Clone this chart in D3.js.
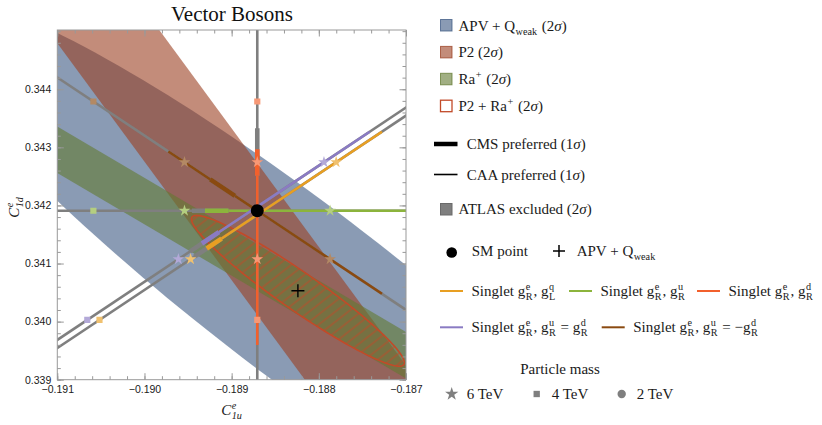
<!DOCTYPE html>
<html>
<head>
<meta charset="utf-8">
<script src="https://cdn.jsdelivr.net/npm/d3@7"></script>
<style>
  body { margin: 0; background: #fff; }
  svg text { font-family: "Liberation Serif", "Times New Roman", serif; fill: #1a1a1a; }
  svg text.tick-label { font-family: "Liberation Sans", Arial, sans-serif; }
</style>
</head>
<body>
<svg id="chart" width="822" height="425"></svg>
<script>
// ---- data ----
const xTicks = [-0.191, -0.190, -0.189, -0.188, -0.187];
const yTicks = [0.339, 0.340, 0.341, 0.342, 0.343, 0.344];

const smPoint = [-0.188706, 0.341909];
const apvBest = [-0.18824, 0.34053];

// APV + Qweak 2 sigma ellipse: centre + two conjugate half diameters
const apvHalfA = [0.004381, -0.004755];
const apvHalfB = [0, 0.00186];
// P2 + Ra+ 2 sigma ellipse (same centre)
const comboHalfA = [0.0012213, -0.0012362];
const comboHalfB = [0, 0.000396];

// straight bands (corner points, clipped to the frame)
const p2Band = [[-0.19111, 0.34502], [-0.18983, 0.34502], [-0.18688, 0.339], [-0.18816, 0.339]];
const raBand = [[-0.191, 0.34336], [-0.187, 0.33982], [-0.187, 0.33902], [-0.191, 0.34256]];

// singlet lines
const singletColors = ["#e89f22", "#8cb43c", "#f2602c", "#8a7bc3", "#8a4a10"];
const singletDir = [[1, 1], [1, 0], [0, 1], [1, 1], [1, -1]];
const singletOffsetU = [0.00007, 0, 0, -0.00007, 0];
const singletAllowed = [[-0.00065, 0.00136], [-0.0006, 0.01], [-0.00231, 0.00106], [-0.000565, 0.00136], [-0.00102, 0.00143]];
const singletCms = [[-0.00079, -0.00048], [-0.00075, -0.00033], [0.0006, 0.00142], [-0.0007, -0.00037], [-0.00054, -0.000256]];
const singletLabels = [
  ["Singlet g", {sup: "e", sub: "R"}, ", g", {sup: "q", sub: "L"}],
  ["Singlet g", {sup: "e", sub: "R"}, ", g", {sup: "u", sub: "R"}],
  ["Singlet g", {sup: "e", sub: "R"}, ", g", {sup: "d", sub: "R"}],
  ["Singlet g", {sup: "e", sub: "R"}, ", g", {sup: "u", sub: "R"}, " = g", {sup: "d", sub: "R"}],
  ["Singlet g", {sup: "e", sub: "R"}, ", g", {sup: "u", sub: "R"}, " = \u2212g", {sup: "d", sub: "R"}]
];

// mass markers: shift from the SM point along each line
const massLabels = ["6 TeV", "4 TeV", "2 TeV"];
const massShift = [0.000835, 0.00188, 0.0075];
const massSymbols = [d3.symbolStar, d3.symbolSquare, d3.symbolCircle];

const blue = "rgb(60,88,130)", red = "rgb(155,63,33)", green = "rgb(98,122,48)";
const grey = "#7f7f7f", hatchCol = "#c24a28";

// ---- chart ----
const svg = d3.select("#chart");
const x = d3.scaleLinear().domain([-0.191, -0.187]).range([57.3, 406]);
const y = d3.scaleLinear().domain([0.339, 0.34502]).range([379.7, 30]);
const [x0, x1] = x.range(), [y0, y1] = [y.range()[1], y.range()[0]];

const defs = svg.append("defs");
defs.append("clipPath").attr("id", "plotClip").append("rect")
    .attr("x", x0).attr("y", y0).attr("width", x1 - x0).attr("height", y1 - y0);
const hatch = defs.append("pattern").attr("id", "hatch")
    .attr("patternUnits", "userSpaceOnUse").attr("width", 8).attr("height", 8)
    .attr("patternTransform", "rotate(52)");
hatch.append("line").attr("x1", 4).attr("y1", 0).attr("x2", 4).attr("y2", 8)
    .attr("stroke", hatchCol).attr("stroke-width", 0.9);

const plot = svg.append("g").attr("clip-path", "url(#plotClip)");

function ellipsePath(c, a, b) {
    const pts = d3.range(0, 361, 2).map(deg => {
        const t = deg * Math.PI / 180;
        return [x(c[0] + a[0] * Math.cos(t) + b[0] * Math.sin(t)),
                y(c[1] + a[1] * Math.cos(t) + b[1] * Math.sin(t))];
    });
    return d3.line()(pts) + "Z";
}
const poly = d3.line().x(d => x(d[0])).y(d => y(d[1]));

plot.append("path").attr("d", ellipsePath(apvBest, apvHalfA, apvHalfB))
    .attr("fill", blue).attr("fill-opacity", 0.6);
plot.append("path").attr("d", poly(p2Band) + "Z")
    .attr("fill", red).attr("fill-opacity", 0.6);
plot.append("path").attr("d", poly(raBand) + "Z")
    .attr("fill", green).attr("fill-opacity", 0.6);
plot.append("path").attr("d", ellipsePath(apvBest, comboHalfA, comboHalfB))
    .attr("fill", "url(#hatch)").attr("stroke", hatchCol).attr("stroke-width", 1.6);

// singlet lines
function linePt(i, t) {
    return [x(smPoint[0] + singletOffsetU[i] + singletDir[i][0] * t),
            y(smPoint[1] + singletDir[i][1] * t)];
}
function seg(i, t0, t1, colour, w) {
    if (t1 <= t0) return;
    plot.append("path").attr("d", d3.line()([linePt(i, t0), linePt(i, t1)]))
        .attr("stroke", colour).attr("stroke-width", w).attr("fill", "none");
}
const order = [1, 4, 3, 0, 2];
order.forEach(i => {
    const [a0, a1] = singletAllowed[i], [c0, c1] = singletCms[i];
    seg(i, -0.012, 0.012, grey, 2.6);
    seg(i, a0, a1, singletColors[i], 2.6);
    seg(i, c0, c1, grey, 4.6);
    seg(i, Math.max(a0, c0), Math.min(a1, c1), singletColors[i], 4.6);
});
order.forEach(i => {
    const pale = d3.interpolateRgb(singletColors[i], "#fff")(0.35);
    massShift.forEach((s, m) => {
        [-s, s].forEach(t => {
            const p = linePt(i, t);
            plot.append("path")
                .attr("d", d3.symbol().type(massSymbols[m]).size(m === 0 ? 42 : 38)())
                .attr("transform", `translate(${p[0]},${p[1]})`)
                .attr("fill", pale);
        });
    });
});

plot.append("circle").attr("cx", x(smPoint[0])).attr("cy", y(smPoint[1])).attr("r", 6.5).attr("fill", "#000");
const cx = x(apvBest[0]), cy = y(apvBest[1]);
plot.append("path").attr("d", `M${cx - 6.5},${cy}H${cx + 6.5}M${cx},${cy - 6.5}V${cy + 6.5}`)
    .attr("stroke", "#000").attr("stroke-width", 1.4);

// frame and ticks
const minorX = d3.ticks(-0.191, -0.187, 20), minorY = d3.ticks(0.339, 0.345, 30).filter(v => v <= 0.34502);
const frameCol = "#999";
function styleAxis(g) {
    g.select(".domain").remove();
    g.selectAll("line").attr("stroke", frameCol);
    g.selectAll("text").attr("class", "tick-label").attr("font-size", 10.5).attr("fill", "#1a1a1a");
}
svg.append("g").attr("transform", `translate(0,${y1})`)
    .call(d3.axisBottom(x).tickValues(minorX).tickSize(-3.5).tickFormat("")).call(styleAxis);
svg.append("g").attr("transform", `translate(0,${y1})`)
    .call(d3.axisBottom(x).tickValues(xTicks).tickSize(-6.5).tickPadding(6).tickFormat(d3.format(".3f"))).call(styleAxis);
svg.append("g").attr("transform", `translate(0,${y0})`)
    .call(d3.axisTop(x).tickValues(minorX).tickSize(-3.5).tickFormat("")).call(styleAxis);
svg.append("g").attr("transform", `translate(0,${y0})`)
    .call(d3.axisTop(x).tickValues(xTicks).tickSize(-6.5).tickFormat("")).call(styleAxis);
svg.append("g").attr("transform", `translate(${x0},0)`)
    .call(d3.axisLeft(y).tickValues(minorY).tickSize(-3.5).tickFormat("")).call(styleAxis);
svg.append("g").attr("transform", `translate(${x0},0)`)
    .call(d3.axisLeft(y).tickValues(yTicks).tickSize(-6.5).tickPadding(6).tickFormat(d3.format(".3f"))).call(styleAxis);
svg.append("g").attr("transform", `translate(${x1},0)`)
    .call(d3.axisRight(y).tickValues(minorY).tickSize(-3.5).tickFormat("")).call(styleAxis);
svg.append("g").attr("transform", `translate(${x1},0)`)
    .call(d3.axisRight(y).tickValues(yTicks).tickSize(-6.5).tickFormat("")).call(styleAxis);
svg.append("rect").attr("x", x0).attr("y", y0).attr("width", x1 - x0).attr("height", y1 - y0)
    .attr("fill", "none").attr("stroke", frameCol).attr("stroke-width", 1);

// rich text helper (sub/superscripts)
function rich(parent, px, py, parts, size, anchor) {
    const g = parent.append("g");
    let pos = 0;
    const put = (txt, dy, fs, italic) => {
        const t = g.append("text").attr("x", pos).attr("y", dy).attr("font-size", fs)
            .attr("font-style", italic ? "italic" : null).style("white-space", "pre").text(txt);
        return t.node().getComputedTextLength();
    };
    parts.forEach(p => {
        if (typeof p === "string") pos += put(p, 0, size, false);
        else if (p.it) pos += put(p.it, 0, size, true);
        else {
            let w = 0;
            pos += 0.5;
            if (p.sup) w = Math.max(w, put(p.sup, -0.4 * size, size * 0.68, p.italic));
            if (p.sub) w = Math.max(w, put(p.sub, 0.27 * size, size * 0.68, p.italic));
            pos += w + 1;
        }
    });
    const shift = anchor === "middle" ? -pos / 2 : 0;
    g.attr("transform", `translate(${px + shift},${py})`);
    return g;
}

// title and axis labels
svg.append("text").attr("x", 232).attr("y", 21).attr("text-anchor", "middle")
    .attr("font-size", 21).style("fill", "#111").text("Vector Bosons");
rich(svg, 232, 415, [{it: "C"}, {sup: "e", sub: "1u", italic: true}], 15, "middle");
const yl = svg.append("g").attr("transform", "translate(18.5,207) rotate(-90)");
rich(yl, 0, 0, [{it: "C"}, {sup: "e", sub: "1d", italic: true}], 15, "middle");

// legend
const leg = svg.append("g");
const LS = 15;
const regionFills = [blue, red, green, "#fff"];
const regionLabels = [
    ["APV + Q", {sub: "weak"}, " (2", {it: "\u03c3"}, ")"],
    ["P2 (2", {it: "\u03c3"}, ")"],
    ["Ra", {sup: "+"}, " (2", {it: "\u03c3"}, ")"],
    ["P2 + Ra", {sup: "+"}, " (2", {it: "\u03c3"}, ")"]
];
regionLabels.forEach((lab, i) => {
    const yy = 19.5 + i * 26.9;
    const r = leg.append("rect").attr("x", 440.5).attr("y", yy).attr("width", 11.5).attr("height", 11.5);
    if (i < 3) r.attr("fill", regionFills[i]).attr("fill-opacity", 0.6)
        .attr("stroke", d3.color(regionFills[i]).copy({opacity: 0.75})).attr("stroke-width", 1);
    else r.attr("fill", "#fff").attr("stroke", hatchCol).attr("stroke-width", 1.3);
    rich(leg, 458.5, yy + 11, lab, LS);
});
leg.append("line").attr("x1", 434).attr("x2", 457.5).attr("y1", 144).attr("y2", 144)
    .attr("stroke", "#000").attr("stroke-width", 4.5);
rich(leg, 466.7, 149, ["CMS preferred (1", {it: "\u03c3"}, ")"], LS);
leg.append("line").attr("x1", 434).attr("x2", 457.5).attr("y1", 174.5).attr("y2", 174.5)
    .attr("stroke", "#000").attr("stroke-width", 1.6);
rich(leg, 466.7, 179.5, ["CAA preferred (1", {it: "\u03c3"}, ")"], LS);
leg.append("rect").attr("x", 440.5).attr("y", 203.5).attr("width", 11.5).attr("height", 11.5)
    .attr("fill", grey).attr("stroke", "#6a6a6a").attr("stroke-width", 1);
rich(leg, 458.5, 214, ["ATLAS excluded (2", {it: "\u03c3"}, ")"], LS);

leg.append("circle").attr("cx", 451.7).attr("cy", 252.5).attr("r", 5.3).attr("fill", "#000");
rich(leg, 471.7, 256, ["SM point"], LS);
leg.append("path").attr("d", "M553,251H565M559,245V257").attr("stroke", "#000").attr("stroke-width", 1.5);
rich(leg, 576.7, 256, ["APV + Q", {sub: "weak"}], LS);

const singletLegendPos = [[440, 291], [569, 291], [697, 291], [440, 327.3], [601.7, 327.3]];
singletLabels.forEach((lab, i) => {
    const [lx, ly] = singletLegendPos[i];
    leg.append("line").attr("x1", lx).attr("x2", lx + 23).attr("y1", ly).attr("y2", ly)
        .attr("stroke", singletColors[i]).attr("stroke-width", 2);
    rich(leg, lx + 31.5, ly + 4.5, lab, LS);
});

leg.append("text").attr("x", 560).attr("y", 374).attr("text-anchor", "middle")
    .attr("font-size", LS).text("Particle mass");
const massLegendX = [451.7, 536.7, 621.7];
massLabels.forEach((lab, m) => {
    leg.append("path").attr("d", d3.symbol().type(massSymbols[m]).size(m === 1 ? 40 : 55)())
        .attr("transform", `translate(${massLegendX[m]},${394})`).attr("fill", grey);
    rich(leg, massLegendX[m] + 15, 398.5, [lab], LS);
});
</script>
</body>
</html>
